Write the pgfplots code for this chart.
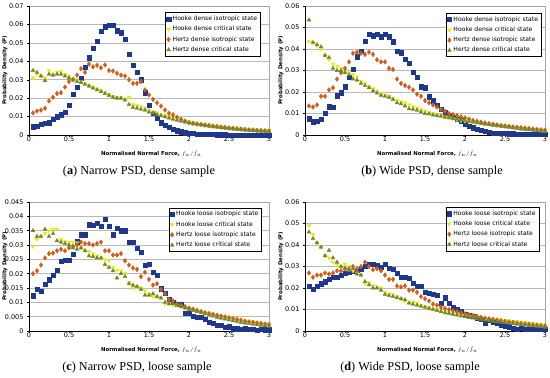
\documentclass[border=0pt]{standalone}
\usepackage{fontspec}
\setmainfont{Liberation Serif}
\newfontfamily\dv{DejaVu Sans}
\usepackage{pgfplots}
\usepackage{pgfplotstable}
\pgfplotsset{compat=1.18}

\definecolor{cHI}{RGB}{31,56,138}
\definecolor{cHC}{RGB}{232,232,30}
\definecolor{cZI}{RGB}{205,95,30}
\definecolor{cZC}{RGB}{115,135,45}

% x  HookeIso HookeCrit HertzIso HertzCrit
\pgfplotstableread{
x hi hc zi zc
0.05 0.0045 0.0310 0.0120 0.0350
0.10 0.0050 0.0330 0.0130 0.0340
0.15 0.0060 0.0320 0.0135 0.0320
0.20 0.0065 0.0310 0.0145 0.0295
0.25 0.0067 0.0350 0.0185 0.0330
0.30 0.0085 0.0330 0.0205 0.0325
0.35 0.0100 0.0340 0.0225 0.0330
0.40 0.0110 0.0345 0.0230 0.0330
0.45 0.0125 0.0330 0.0260 0.0320
0.50 0.0160 0.0320 0.0290 0.0310
0.55 0.0220 0.0305 0.0300 0.0300
0.60 0.0260 0.0300 0.0325 0.0290
0.65 0.0310 0.0290 0.0360 0.0285
0.70 0.0370 0.0280 0.0340 0.0275
0.75 0.0420 0.0270 0.0385 0.0265
0.80 0.0470 0.0260 0.0370 0.0255
0.85 0.0510 0.0250 0.0378 0.0245
0.90 0.0565 0.0240 0.0365 0.0235
0.95 0.0588 0.0230 0.0380 0.0225
1.00 0.0595 0.0220 0.0350 0.0215
1.05 0.0596 0.0210 0.0347 0.0205
1.10 0.0566 0.0205 0.0335 0.0200
1.15 0.0555 0.0200 0.0325 0.0200
1.20 0.0520 0.0195 0.0320 0.0190
1.25 0.0440 0.0205 0.0300 0.0165
1.30 0.0380 0.0165 0.0280 0.0150
1.35 0.0343 0.0160 0.0280 0.0145
1.40 0.0300 0.0155 0.0290 0.0140
1.45 0.0230 0.0145 0.0245 0.0135
1.50 0.0160 0.0135 0.0217 0.0125
1.55 0.0118 0.0125 0.0193 0.0120
1.60 0.0090 0.0120 0.0175 0.0110
1.65 0.0067 0.0110 0.0157 0.0105
1.70 0.0054 0.0105 0.0136 0.0098
1.75 0.0042 0.0100 0.0118 0.0092
1.80 0.0030 0.0093 0.0110 0.0086
1.85 0.0024 0.0088 0.0096 0.0080
1.90 0.0018 0.0082 0.0085 0.0075
1.95 0.0013 0.0077 0.0076 0.0070
2.00 0.0010 0.0072 0.0067 0.0066
2.05 0.0008 0.0068 0.0063 0.0062
2.10 0.0006 0.0064 0.0060 0.0058
2.15 0.0005 0.0060 0.0057 0.0055
2.20 0.0004 0.0057 0.0054 0.0052
2.25 0.0003 0.0054 0.0051 0.0049
2.30 0.0003 0.0051 0.0048 0.0046
2.35 0.0002 0.0048 0.0046 0.0043
2.40 0.0002 0.0045 0.0043 0.0040
2.45 0.0002 0.0043 0.0041 0.0038
2.50 0.0001 0.0040 0.0038 0.0035
2.55 0.0001 0.0038 0.0036 0.0033
2.60 0.0001 0.0036 0.0034 0.0031
2.65 0.0001 0.0034 0.0032 0.0029
2.70 0.0001 0.0032 0.0030 0.0027
2.75 0.0000 0.0030 0.0028 0.0025
2.80 0.0000 0.0029 0.0027 0.0024
2.85 0.0000 0.0027 0.0025 0.0022
2.90 0.0000 0.0026 0.0024 0.0021
2.95 0.0000 0.0025 0.0023 0.0020
3.00 0.0000 0.0024 0.0022 0.0019
}\tA

\pgfplotstableread{
x hi hc zi zc
0.05 0.0076 0.0435 0.0135 0.0535
0.10 0.0062 0.0430 0.0130 0.0430
0.15 0.0065 0.0415 0.0140 0.0420
0.20 0.0074 0.0400 0.0180 0.0410
0.25 0.0100 0.0370 0.0180 0.0370
0.30 0.0132 0.0350 0.0210 0.0360
0.35 0.0129 0.0330 0.0220 0.0310
0.40 0.0183 0.0320 0.0260 0.0300
0.45 0.0197 0.0310 0.0290 0.0300
0.50 0.0225 0.0300 0.0310 0.0290
0.55 0.0270 0.0290 0.0340 0.0280
0.60 0.0305 0.0280 0.0380 0.0260
0.65 0.0364 0.0270 0.0385 0.0255
0.70 0.0390 0.0250 0.0380 0.0240
0.75 0.0437 0.0240 0.0375 0.0230
0.80 0.0468 0.0225 0.0385 0.0220
0.85 0.0462 0.0215 0.0375 0.0205
0.90 0.0470 0.0205 0.0350 0.0195
0.95 0.0457 0.0195 0.0340 0.0185
1.00 0.0468 0.0185 0.0340 0.0180
1.05 0.0457 0.0180 0.0310 0.0175
1.10 0.0434 0.0170 0.0305 0.0165
1.15 0.0390 0.0162 0.0260 0.0150
1.20 0.0383 0.0155 0.0240 0.0145
1.25 0.0352 0.0150 0.0230 0.0135
1.30 0.0333 0.0140 0.0222 0.0122
1.35 0.0294 0.0132 0.0210 0.0120
1.40 0.0270 0.0125 0.0190 0.0115
1.45 0.0225 0.0118 0.0180 0.0108
1.50 0.0220 0.0112 0.0160 0.0100
1.55 0.0178 0.0105 0.0150 0.0098
1.60 0.0160 0.0100 0.0140 0.0093
1.65 0.0140 0.0095 0.0130 0.0090
1.70 0.0120 0.0090 0.0120 0.0087
1.75 0.0104 0.0085 0.0110 0.0083
1.80 0.0093 0.0080 0.0100 0.0080
1.85 0.0082 0.0076 0.0095 0.0077
1.90 0.0073 0.0072 0.0090 0.0074
1.95 0.0067 0.0068 0.0085 0.0071
2.00 0.0051 0.0065 0.0080 0.0068
2.05 0.0042 0.0062 0.0074 0.0064
2.10 0.0034 0.0059 0.0068 0.0060
2.15 0.0028 0.0057 0.0064 0.0057
2.20 0.0023 0.0055 0.0060 0.0054
2.25 0.0019 0.0052 0.0056 0.0051
2.30 0.0014 0.0050 0.0053 0.0048
2.35 0.0010 0.0048 0.0050 0.0045
2.40 0.0009 0.0046 0.0047 0.0043
2.45 0.0008 0.0044 0.0044 0.0041
2.50 0.0007 0.0042 0.0042 0.0039
2.55 0.0006 0.0040 0.0040 0.0036
2.60 0.0006 0.0038 0.0038 0.0033
2.65 0.0005 0.0036 0.0036 0.0030
2.70 0.0005 0.0034 0.0034 0.0028
2.75 0.0005 0.0032 0.0032 0.0026
2.80 0.0004 0.0030 0.0030 0.0024
2.85 0.0004 0.0028 0.0028 0.0022
2.90 0.0004 0.0026 0.0026 0.0020
2.95 0.0004 0.0025 0.0024 0.0018
3.00 0.0004 0.0024 0.0022 0.0016
}\tB

\pgfplotstableread{
x hi hc zi zc
0.05 0.0123 0.0295 0.0200 0.0350
0.10 0.0146 0.0320 0.0210 0.0330
0.15 0.0138 0.0330 0.0230 0.0330
0.20 0.0164 0.0340 0.0255 0.0355
0.25 0.0179 0.0350 0.0270 0.0330
0.30 0.0195 0.0355 0.0272 0.0340
0.35 0.0213 0.0355 0.0280 0.0315
0.40 0.0243 0.0320 0.0285 0.0310
0.45 0.0248 0.0312 0.0280 0.0305
0.50 0.0248 0.0310 0.0290 0.0300
0.55 0.0269 0.0310 0.0295 0.0290
0.60 0.0312 0.0308 0.0300 0.0285
0.65 0.0336 0.0290 0.0310 0.0290
0.70 0.0336 0.0282 0.0305 0.0280
0.75 0.0371 0.0278 0.0305 0.0262
0.80 0.0368 0.0270 0.0300 0.0260
0.85 0.0377 0.0262 0.0305 0.0255
0.90 0.0366 0.0252 0.0310 0.0255
0.95 0.0389 0.0248 0.0280 0.0232
1.00 0.0366 0.0245 0.0280 0.0222
1.05 0.0336 0.0222 0.0265 0.0210
1.10 0.0358 0.0212 0.0265 0.0185
1.15 0.0350 0.0210 0.0270 0.0200
1.20 0.0350 0.0202 0.0245 0.0190
1.25 0.0310 0.0170 0.0230 0.0165
1.30 0.0310 0.0150 0.0220 0.0160
1.35 0.0289 0.0155 0.0215 0.0155
1.40 0.0275 0.0150 0.0190 0.0145
1.45 0.0230 0.0140 0.0205 0.0125
1.50 0.0234 0.0130 0.0180 0.0125
1.55 0.0204 0.0120 0.0160 0.0130
1.60 0.0196 0.0120 0.0165 0.0120
1.65 0.0148 0.0115 0.0145 0.0115
1.70 0.0132 0.0095 0.0130 0.0100
1.75 0.0111 0.0095 0.0110 0.0095
1.80 0.0102 0.0090 0.0105 0.0095
1.85 0.0093 0.0090 0.0095 0.0090
1.90 0.0093 0.0085 0.0090 0.0085
1.95 0.0062 0.0080 0.0085 0.0080
2.00 0.0062 0.0078 0.0080 0.0076
2.05 0.0053 0.0074 0.0076 0.0072
2.10 0.0047 0.0070 0.0072 0.0068
2.15 0.0047 0.0067 0.0068 0.0064
2.20 0.0040 0.0064 0.0064 0.0060
2.25 0.0030 0.0061 0.0061 0.0056
2.30 0.0026 0.0058 0.0058 0.0052
2.35 0.0020 0.0055 0.0055 0.0048
2.40 0.0020 0.0052 0.0052 0.0045
2.45 0.0014 0.0050 0.0049 0.0042
2.50 0.0015 0.0047 0.0046 0.0039
2.55 0.0008 0.0044 0.0043 0.0036
2.60 0.0008 0.0041 0.0040 0.0033
2.65 0.0006 0.0039 0.0037 0.0030
2.70 0.0008 0.0036 0.0034 0.0028
2.75 0.0006 0.0034 0.0032 0.0026
2.80 0.0006 0.0032 0.0030 0.0024
2.85 0.0004 0.0030 0.0028 0.0022
2.90 0.0006 0.0028 0.0026 0.0020
2.95 0.0005 0.0026 0.0024 0.0018
3.00 0.0005 0.0024 0.0022 0.0016
}\tC

\pgfplotstableread{
x hi hc zi zc
0.05 0.0210 0.0490 0.0270 0.0460
0.10 0.0195 0.0450 0.0250 0.0430
0.15 0.0210 0.0410 0.0260 0.0410
0.20 0.0220 0.0390 0.0260 0.0390
0.25 0.0230 0.0350 0.0270 0.0350
0.30 0.0240 0.0340 0.0265 0.0375
0.35 0.0250 0.0320 0.0270 0.0340
0.40 0.0250 0.0310 0.0280 0.0320
0.45 0.0260 0.0300 0.0280 0.0300
0.50 0.0270 0.0310 0.0290 0.0290
0.55 0.0272 0.0300 0.0290 0.0280
0.60 0.0280 0.0280 0.0300 0.0290
0.65 0.0282 0.0270 0.0290 0.0265
0.70 0.0290 0.0260 0.0300 0.0260
0.75 0.0300 0.0220 0.0320 0.0230
0.80 0.0312 0.0225 0.0300 0.0215
0.85 0.0310 0.0210 0.0285 0.0200
0.90 0.0305 0.0205 0.0290 0.0200
0.95 0.0298 0.0200 0.0280 0.0190
1.00 0.0310 0.0180 0.0260 0.0170
1.05 0.0292 0.0172 0.0240 0.0165
1.10 0.0288 0.0170 0.0240 0.0160
1.15 0.0270 0.0160 0.0210 0.0155
1.20 0.0250 0.0150 0.0205 0.0150
1.25 0.0252 0.0140 0.0210 0.0145
1.30 0.0245 0.0130 0.0190 0.0130
1.35 0.0222 0.0135 0.0190 0.0125
1.40 0.0210 0.0130 0.0180 0.0120
1.45 0.0210 0.0120 0.0160 0.0115
1.50 0.0180 0.0115 0.0150 0.0110
1.55 0.0175 0.0110 0.0140 0.0105
1.60 0.0170 0.0105 0.0125 0.0100
1.65 0.0165 0.0100 0.0120 0.0095
1.70 0.0130 0.0095 0.0110 0.0090
1.75 0.0155 0.0090 0.0105 0.0085
1.80 0.0130 0.0086 0.0100 0.0082
1.85 0.0110 0.0082 0.0095 0.0078
1.90 0.0100 0.0078 0.0090 0.0074
1.95 0.0090 0.0075 0.0085 0.0070
2.00 0.0080 0.0072 0.0080 0.0066
2.05 0.0075 0.0069 0.0076 0.0063
2.10 0.0070 0.0066 0.0072 0.0060
2.15 0.0060 0.0064 0.0068 0.0057
2.20 0.0055 0.0061 0.0064 0.0054
2.25 0.0035 0.0059 0.0060 0.0051
2.30 0.0050 0.0057 0.0057 0.0048
2.35 0.0040 0.0055 0.0054 0.0045
2.40 0.0035 0.0053 0.0051 0.0043
2.45 0.0030 0.0051 0.0048 0.0041
2.50 0.0025 0.0049 0.0045 0.0039
2.55 0.0020 0.0047 0.0042 0.0036
2.60 0.0015 0.0045 0.0040 0.0034
2.65 0.0010 0.0043 0.0037 0.0032
2.70 0.0012 0.0041 0.0035 0.0030
2.75 0.0010 0.0039 0.0033 0.0028
2.80 0.0008 0.0037 0.0031 0.0026
2.85 0.0008 0.0035 0.0029 0.0024
2.90 0.0008 0.0033 0.0027 0.0022
2.95 0.0008 0.0030 0.0025 0.0020
3.00 0.0008 0.0027 0.0023 0.0018
}\tD

\pgfplotsset{
  panel/.style={
    scale only axis, width=240bp, height=129bp,
    xmin=0, xmax=3, ymin=0,
    xtick={0,0.5,1,1.5,2,2.5,3},
    xticklabels={0,0.5,1,1.5,2,2.5,3},
    scaled y ticks=false,
    yticklabel style={/pgf/number format/fixed, /pgf/number format/precision=3},
    /pgf/number format/assume math mode=true,
    ymajorgrids, grid style={gray!55, line width=0.5pt},
    tick align=outside, tick pos=left, major tick length=2bp,
    tick style={black, line width=0.4pt},
    ticklabel style={font=\dv\fontsize{6.5}{7}\selectfont},
    xticklabel style={yshift=1.5bp, inner sep=1pt},
    axis line style={gray!70, line width=0.5pt},
    xlabel={Normalised Normal Force, $f_n/\bar{f}_n$},
    ylabel={Probability Density (P)},
    label style={font=\dv\bfseries\fontsize{5.4}{6}\selectfont},
    xlabel style={at={(axis description cs:0.51,-0.145)}, anchor=center, inner sep=0pt},
    ylabel style={at={(axis description cs:-0.1,0.5)}, anchor=center},
    legend style={font=\dv\fontsize{6.1}{6.5}\selectfont, draw=black, line width=0.4pt,
      inner xsep=1.2bp, inner ysep=1.2bp, row sep=0.2bp, anchor=north east,
      /tikz/every even column/.append style={column sep=0.5bp}},
    legend cell align=left,
    legend image code/.code={\draw plot coordinates {(0.06cm,0cm)};},
    every axis plot/.append style={only marks, mark size=2.3bp, line width=0.3pt},
    clip=false,
  },
  sHI/.style={mark=square*, color=cHI, mark size=2.1bp},
  sHC/.style={mark=triangle*, color=cHC, mark options={rotate=180}},
  sZI/.style={mark=diamond*, color=cZI, mark size=2.4bp},
  sZC/.style={mark=triangle*, color=cZC},
}

\newcommand\blackaxes{%
  \draw[black, line width=0.5pt] (rel axis cs:0,1) -- (rel axis cs:0,0) -- (rel axis cs:1,0);}

\begin{document}
\begin{tikzpicture}
\useasboundingbox (0,0) rectangle (550bp,378bp);

% (a)
\begin{axis}[panel, at={(29bp,243bp)}, anchor=south west, ymax=0.07, ytick distance=0.01,
  legend style={at={(0.965,0.95)}}]
\addplot[sHI] table[x=x,y=hi]{\tA};
\addplot[sHC] table[x=x,y=hc]{\tA};
\addplot[sZI] table[x=x,y=zi]{\tA};
\addplot[sZC] table[x=x,y=zc]{\tA};
\blackaxes
\legend{Hooke dense isotropic state, Hooke dense critical state, Hertz dense isotropic state, Hertz dense critical state}
\end{axis}

% (b)
\begin{axis}[panel, at={(305bp,243bp)}, anchor=south west, ymax=0.06, ytick distance=0.01,
  legend style={at={(0.985,0.945)}}]
\addplot[sHI] table[x=x,y=hi]{\tB};
\addplot[sHC] table[x=x,y=hc]{\tB};
\addplot[sZI] table[x=x,y=zi]{\tB};
\addplot[sZC] table[x=x,y=zc]{\tB};
\blackaxes
\legend{Hooke dense isotropic state, Hooke dense critical state, Hertz dense isotropic state, Hertz dense critical state}
\end{axis}

% (c)
\begin{axis}[panel, at={(29bp,47bp)}, anchor=south west, ymax=0.045, ytick distance=0.005,
  legend style={at={(0.97,0.955)}}]
\addplot[sHI] table[x=x,y=hi]{\tC};
\addplot[sHC] table[x=x,y=hc]{\tC};
\addplot[sZI] table[x=x,y=zi]{\tC};
\addplot[sZC] table[x=x,y=zc]{\tC};
\blackaxes
\legend{Hooke loose isotropic state, Hooke loose critical state, Hertz loose isotropic state, Hertz loose critical state}
\end{axis}

% (d)
\begin{axis}[panel, at={(305bp,47bp)}, anchor=south west, ymax=0.06, ytick distance=0.01,
  legend style={at={(0.975,0.96)}}]
\addplot[sHI] table[x=x,y=hi]{\tD};
\addplot[sHC] table[x=x,y=hc]{\tD};
\addplot[sZI] table[x=x,y=zi]{\tD};
\addplot[sZC] table[x=x,y=zc]{\tD};
\blackaxes
\legend{Hooke loose isotropic state, Hooke loose critical state, Hertz loose isotropic state, Hertz loose critical state}
\end{axis}

\node[font=\fontsize{12.3}{13}\selectfont] at (139bp,206bp) {(\textbf{a}) Narrow PSD, dense sample};
\node[font=\fontsize{12.3}{13}\selectfont] at (432bp,206bp) {(\textbf{b}) Wide PSD, dense sample};
\node[font=\fontsize{12.3}{13}\selectfont] at (137bp,10bp) {(\textbf{c}) Narrow PSD, loose sample};
\node[font=\fontsize{12.3}{13}\selectfont] at (410bp,10bp) {(\textbf{d}) Wide PSD, loose sample};
\end{tikzpicture}
\end{document}
